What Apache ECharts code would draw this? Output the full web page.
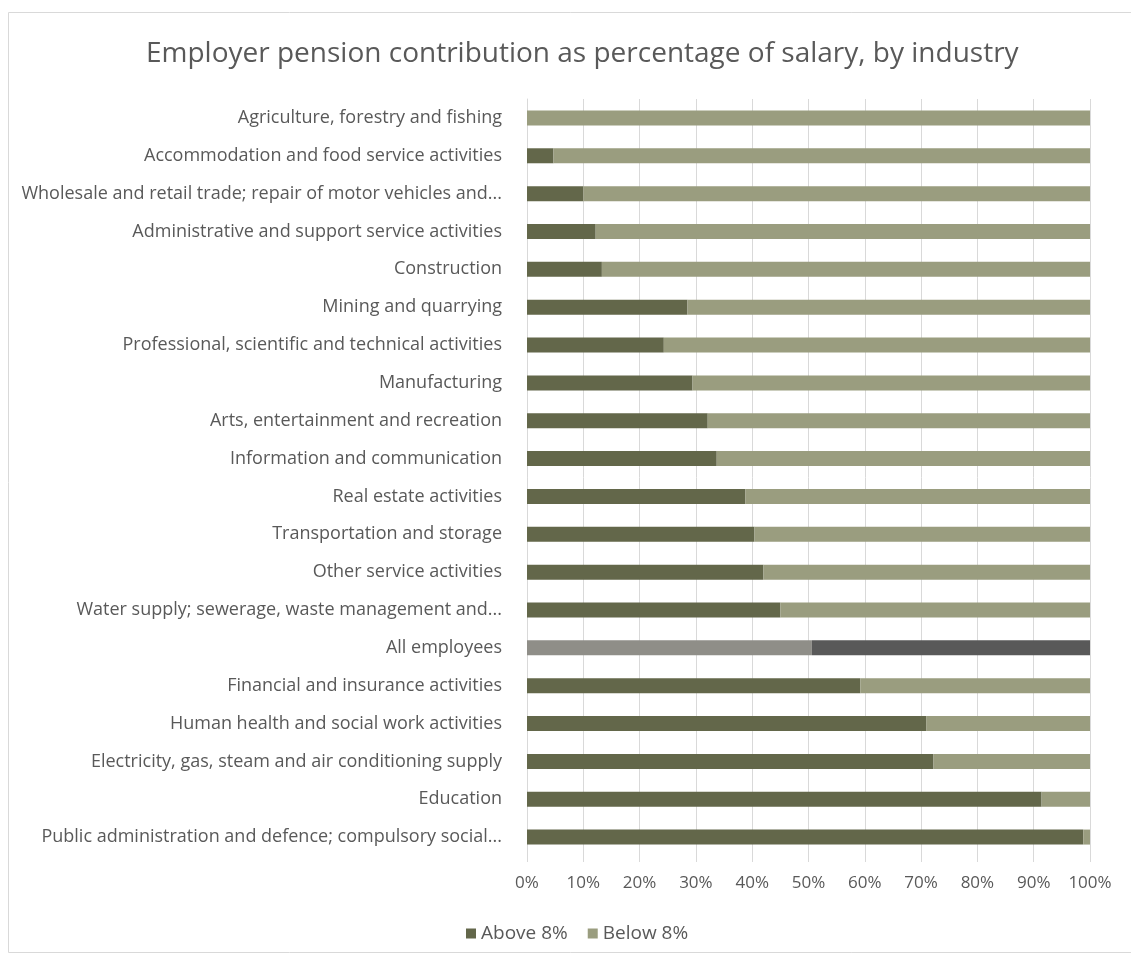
<!DOCTYPE html>
<html><head><meta charset="utf-8">
<script src="https://cdn.jsdelivr.net/npm/echarts@6/dist/echarts.min.js"></script>
<style>html,body{margin:0;padding:0;background:#fff}#c{width:1131px;height:955px}</style>
</head><body><div id="c"></div>
<script>
const categories = [
  "Agriculture, forestry and fishing",
  "Accommodation and food service activities",
  "Wholesale and retail trade; repair of motor vehicles and...",
  "Administrative and support service activities",
  "Construction",
  "Mining and quarrying",
  "Professional, scientific and technical activities",
  "Manufacturing",
  "Arts, entertainment and recreation",
  "Information and communication",
  "Real estate activities",
  "Transportation and storage",
  "Other service activities",
  "Water supply; sewerage, waste management and...",
  "All employees",
  "Financial and insurance activities",
  "Human health and social work activities",
  "Electricity, gas, steam and air conditioning supply",
  "Education",
  "Public administration and defence; compulsory social..."
];
const above8 = [0, 4.7, 10.0, 12.2, 13.3, 28.5, 24.3, 29.4, 32.1, 33.7, 38.8, 40.4, 42.0, 45.0, 50.6, 59.2, 70.9, 72.2, 91.4, 98.8];
const below8 = above8.map(v => +(100 - v).toFixed(1));
const xTicks = [0,10,20,30,40,50,60,70,80,90,100];
const highlightCategory = "All employees";

const C_ABOVE = '#63674a', C_BELOW = '#9a9d7f', C_ALL_L = '#8f8e88', C_ALL_R = '#595959';
const txt = '#595959';
const font = 'Open Sans';

function mk(values, color, hl) {
  return values.map((v, i) => categories[i] === highlightCategory
    ? { value: v, itemStyle: { color: hl } } : v);
}

const chart = echarts.init(document.getElementById('c'));
chart.setOption({
  animation: false,
  textStyle: { fontFamily: font },
  graphic: [{
    type: 'rect', shape: { x: 8.5, y: 12.5, width: 1140, height: 940 },
    style: { fill: 'none', stroke: '#d9d9d9', lineWidth: 1 }, silent: true, z: -1
  }],
  title: {
    text: 'Employer pension contribution as percentage of salary, by industry',
    left: 141, top: 35,
    textStyle: { fontFamily: font, fontSize: 28, fontWeight: 'normal', color: txt }
  },
  legend: {
    top: 919, left: 461, itemWidth: 10, itemHeight: 10, itemGap: 20,
    icon: 'rect',
    textStyle: { fontFamily: font, fontSize: 19, color: txt },
    data: ['Above 8%', 'Below 8%']
  },
  grid: { left: 527, right: 41, top: 99, bottom: 99, containLabel: false },
  xAxis: {
    type: 'value', min: 0, max: 100, interval: 10,
    axisLabel: { formatter: v => xTicks.includes(v) ? v + '%' : '', color: txt, fontSize: 17, margin: 19 },
    splitLine: { show: true, lineStyle: { color: '#d9d9d9' } },
    axisLine: { show: false },
    axisTick: { show: true, length: 6, lineStyle: { color: '#d9d9d9' } }
  },
  yAxis: {
    type: 'category', data: categories, inverse: true,
    axisLabel: { color: txt, fontSize: 18, margin: 25 },
    axisLine: { show: true, lineStyle: { color: '#d9d9d9' } },
    axisTick: { show: false }
  },
  series: [
    { name: 'Above 8%', type: 'bar', stack: 's', barWidth: 15, itemStyle: { color: C_ABOVE },
      data: mk(above8, C_ABOVE, C_ALL_L) },
    { name: 'Below 8%', type: 'bar', stack: 's', barWidth: 15, itemStyle: { color: C_BELOW },
      data: mk(below8, C_BELOW, C_ALL_R) }
  ]
});
</script></body></html>
